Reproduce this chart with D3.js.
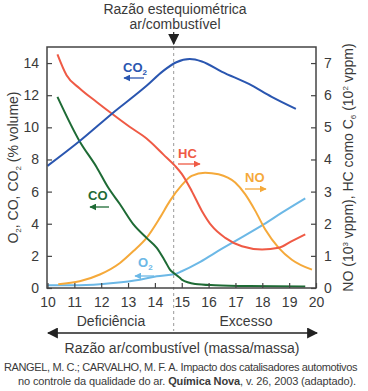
<!DOCTYPE html>
<html>
<head>
<meta charset="utf-8">
<script src="https://cdn.jsdelivr.net/npm/d3@7"></script>
<style>
  body { margin: 0; background: #fff; }
  svg text { font-family: "Liberation Sans", Arial, sans-serif; fill: #3a3a3a; }
</style>
</head>
<body>
<div id="chart"></div>
<script>

// ---- data ----
// left axis (% volume)
var co2X = [10, 11.2, 12.4, 13.7, 14.3, 14.8, 15.3, 15.75, 16.5, 17.5, 18.35, 19.25];
var co2Y = [7.6, 9.15, 10.85, 12.6, 13.5, 14.05, 14.25, 14.1, 13.45, 12.7, 11.9, 11.15];

var coX = [10.37, 11.2, 11.83, 12.26, 12.7, 13.2, 13.69, 14.07, 14.38, 14.56, 14.75, 14.94, 15.0, 15.5, 16.24, 17.5, 19.6];
var coY = [11.9, 9.12, 7.52, 6.25, 5.21, 3.96, 3.12, 2.5, 1.67, 1.15, 0.87, 0.62, 0.52, 0.25, 0.17, 0.12, 0.1];

var o2X = [10, 11.2, 12.45, 13.44, 14.07, 14.75, 15.0, 15.62, 16.24, 16.99, 18.05, 18.73, 19.6];
var o2Y = [0.17, 0.17, 0.31, 0.52, 0.73, 0.87, 1.04, 1.56, 2.19, 2.92, 3.96, 4.69, 5.58];

// right axis: NO (10^3 vppm), HC (10^2 vppm)
var hcX = [10.37, 10.71, 11.2, 11.83, 12.39, 13.07, 13.69, 14.32, 14.75, 15.0, 15.37, 15.75, 16.12, 16.62, 17.24, 17.99, 18.61, 19.1, 19.6];
var hcY = [7.27, 6.62, 6.21, 5.79, 5.43, 5.01, 4.65, 4.15, 3.8, 3.55, 3.02, 2.4, 1.93, 1.56, 1.3, 1.2, 1.25, 1.46, 1.67];

var noX = [10.4, 11.2, 11.95, 12.7, 13.2, 13.69, 14.19, 14.56, 15.0, 15.37, 15.87, 16.37, 16.99, 17.36, 17.74, 18.11, 18.61, 19.1, 19.85];
var noY = [0.12, 0.21, 0.42, 0.78, 1.15, 1.56, 2.19, 2.71, 3.2, 3.49, 3.59, 3.54, 3.28, 2.92, 2.4, 1.82, 1.25, 0.88, 0.57];

var xTicks = [10, 11, 12, 13, 14, 15, 16, 17, 18, 19, 20];
var yLeftTicks = [0, 2, 4, 6, 8, 10, 12, 14];
var yRightTicks = [0, 1, 2, 3, 4, 5, 6, 7];
var stoich = 14.7;

// ---- setup ----
var width = 368, height = 391;
var pLeft = 47, pRight = 316, pTop = 47, pBottom = 288;

var svg = d3.select("#chart").append("svg")
    .attr("width", width)
    .attr("height", height);

var x = d3.scaleLinear().domain([10, 20]).range([pLeft + 0.5, pRight]);
var yL = d3.scaleLinear().domain([0, 15]).range([pBottom, pTop]);
var yR = d3.scaleLinear().domain([0, 7.5]).range([pBottom, pTop]);

var axisColor = "#444";

// arrow markers
var defs = svg.append("defs");
function addMarker(id, color, size) {
    defs.append("marker")
        .attr("id", id)
        .attr("viewBox", "0 0 10 10")
        .attr("refX", 9).attr("refY", 5)
        .attr("markerWidth", size).attr("markerHeight", size)
        .attr("markerUnits", "userSpaceOnUse")
        .attr("orient", "auto-start-reverse")
        .append("path")
        .attr("d", "M0,0 L10,5 L0,10 z")
        .attr("fill", color);
}
addMarker("ar-co2", "#2a56b0", 7);
addMarker("ar-hc", "#ef5a45", 7);
addMarker("ar-no", "#f5a93a", 7);
addMarker("ar-co", "#1e6b35", 7);
addMarker("ar-o2", "#6cb8e6", 7);
addMarker("ar-dark", "#222", 11);

// stoichiometric dashed line
svg.append("line")
    .attr("x1", x(stoich)).attr("x2", x(stoich))
    .attr("y1", pTop).attr("y2", 331)
    .attr("stroke", "#999")
    .attr("stroke-width", 1)
    .attr("stroke-dasharray", "3,3");

// ---- curves ----
function zipPts(xs, ys) {
    return xs.map(function(d, i) { return [d, ys[i]]; });
}

var series = [
    { xs: o2X,  ys: o2Y,  y: yL, color: "#6cb8e6" },
    { xs: noX,  ys: noY,  y: yR, color: "#f5a93a" },
    { xs: hcX,  ys: hcY,  y: yR, color: "#ef5a45" },
    { xs: coX,  ys: coY,  y: yL, color: "#1e6b35" },
    { xs: co2X, ys: co2Y, y: yL, color: "#2a56b0" }
];

series.forEach(function(s) {
    var line = d3.line()
        .x(function(d) { return x(d[0]); })
        .y(function(d) { return s.y(d[1]); })
        .curve(d3.curveMonotoneX);
    svg.append("path")
        .datum(zipPts(s.xs, s.ys))
        .attr("d", line)
        .attr("fill", "none")
        .attr("stroke", s.color)
        .attr("stroke-width", 2);
});

// ---- frame and ticks (ticks point inward) ----
svg.append("rect")
    .attr("x", pLeft).attr("y", pTop)
    .attr("width", pRight - pLeft).attr("height", pBottom - pTop)
    .attr("fill", "none")
    .attr("stroke", axisColor)
    .attr("stroke-width", 1.5);

var xAxis = d3.axisBottom(x).tickValues(xTicks).tickSizeInner(-5).tickSizeOuter(0).tickPadding(9);
var gx = svg.append("g").attr("transform", "translate(0," + pBottom + ")").call(xAxis);

var yAxisL = d3.axisLeft(yL).tickValues(yLeftTicks).tickSizeInner(-5).tickSizeOuter(0).tickPadding(8);
var gyl = svg.append("g").attr("transform", "translate(" + pLeft + ",0)").call(yAxisL);

var yAxisR = d3.axisRight(yR).tickValues(yRightTicks).tickSizeInner(-5).tickSizeOuter(0).tickPadding(8);
var gyr = svg.append("g").attr("transform", "translate(" + pRight + ",0)").call(yAxisR);

[gx, gyl, gyr].forEach(function(g) {
    g.select(".domain").remove();
    g.selectAll(".tick line").attr("stroke", axisColor).attr("stroke-width", 1.2);
    g.selectAll(".tick text")
        .attr("font-family", "Liberation Sans, Arial, sans-serif")
        .attr("font-size", 14)
        .attr("fill", "#3a3a3a");
});

// ---- series labels ----
function seriesLabel(tx, ty, main, sub, color, ax1, ax2, ay, marker) {
    var t = svg.append("text")
        .attr("x", tx).attr("y", ty)
        .attr("font-size", 13)
        .attr("font-weight", "bold")
        .style("fill", color);
    t.append("tspan").text(main);
    if (sub) {
        t.append("tspan").attr("font-size", 8).attr("dy", 3).text(sub);
    }
    svg.append("line")
        .attr("x1", ax1).attr("x2", ax2)
        .attr("y1", ay).attr("y2", ay)
        .attr("stroke", color)
        .attr("stroke-width", 1.3)
        .attr("marker-end", "url(#" + marker + ")");
}
seriesLabel(123, 72, "CO", "2", "#2a56b0", 144, 124, 78, "ar-co2");
seriesLabel(178, 158, "HC", null, "#ef5a45", 178, 200, 164, "ar-hc");
seriesLabel(245, 182, "NO", null, "#f5a93a", 245, 266, 189, "ar-no");
seriesLabel(88, 200, "CO", null, "#1e6b35", 109, 90, 207, "ar-co");
seriesLabel(138, 267, "O", "2", "#6cb8e6", 154, 135, 276, "ar-o2");

// ---- titles ----
svg.append("text")
    .attr("x", 175).attr("y", 14)
    .attr("text-anchor", "middle")
    .attr("font-size", 14)
    .text("Razão estequiométrica");
svg.append("text")
    .attr("x", 175).attr("y", 29)
    .attr("text-anchor", "middle")
    .attr("font-size", 14)
    .text("ar/combustível");
svg.append("line")
    .attr("x1", x(stoich)).attr("x2", x(stoich))
    .attr("y1", 32).attr("y2", 44)
    .attr("stroke", "#222")
    .attr("stroke-width", 1.2)
    .attr("marker-end", "url(#ar-dark)");

// left axis title
var tl = svg.append("text")
    .attr("transform", "translate(18," + ((pTop + pBottom) / 2) + ") rotate(-90)")
    .attr("text-anchor", "middle")
    .attr("font-size", 14);
tl.append("tspan").text("O");
tl.append("tspan").attr("font-size", 8).attr("dy", 3).text("2");
tl.append("tspan").attr("dy", -3).text(", CO, CO");
tl.append("tspan").attr("font-size", 8).attr("dy", 3).text("2");
tl.append("tspan").attr("dy", -3).text(" (% volume)");

// right axis title
var tr = svg.append("text")
    .attr("transform", "translate(353," + ((pTop + pBottom) / 2) + ") rotate(-90)")
    .attr("text-anchor", "middle")
    .attr("font-size", 14);
tr.append("tspan").text("NO (10");
tr.append("tspan").attr("font-size", 8).attr("dy", -5).text("3");
tr.append("tspan").attr("dy", 5).text(" vppm), HC como C");
tr.append("tspan").attr("font-size", 8).attr("dy", 3).text("6");
tr.append("tspan").attr("dy", -3).text(" (10");
tr.append("tspan").attr("font-size", 8).attr("dy", -5).text("2");
tr.append("tspan").attr("dy", 5).text(" vppm)");

// bottom labels
svg.append("text")
    .attr("x", 111).attr("y", 326)
    .attr("text-anchor", "middle")
    .attr("font-size", 14)
    .text("Deficiência");
svg.append("text")
    .attr("x", 246).attr("y", 326)
    .attr("text-anchor", "middle")
    .attr("font-size", 14)
    .text("Excesso");

// double arrow
svg.append("line")
    .attr("x1", 48).attr("x2", 317)
    .attr("y1", 333).attr("y2", 333)
    .attr("stroke", "#222")
    .attr("stroke-width", 1.3)
    .attr("marker-start", "url(#ar-dark)")
    .attr("marker-end", "url(#ar-dark)");

svg.append("text")
    .attr("x", 182).attr("y", 353)
    .attr("text-anchor", "middle")
    .attr("font-size", 14)
    .text("Razão ar/combustível (massa/massa)");

// citation: squeeze with letter-spacing so each line fits its width
function fitLine(t, target) {
    var n = t.text().length;
    var w = t.node().getComputedTextLength();
    t.attr("letter-spacing", ((target - w) / n).toFixed(3) + "px");
}
var cit1 = svg.append("text")
    .attr("x", 4).attr("y", 371)
    .attr("font-size", 11)
    .text("RANGEL, M. C.; CARVALHO, M. F. A. Impacto dos catalisadores automotivos");
fitLine(cit1, 353);

var cit2 = svg.append("text")
    .attr("x", 18).attr("y", 385)
    .attr("font-size", 11);
cit2.append("tspan").text("no controle da qualidade do ar. ");
cit2.append("tspan").attr("font-weight", "bold").text("Química Nova");
cit2.append("tspan").text(", v. 26, 2003 (adaptado).");
fitLine(cit2, 338);

</script>
</body>
</html>
